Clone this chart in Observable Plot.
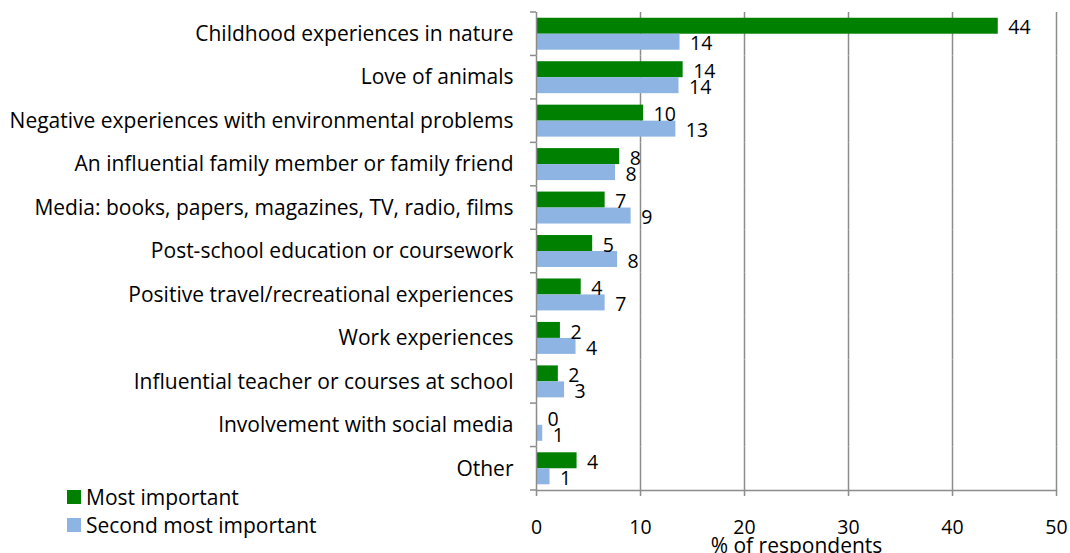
<!DOCTYPE html>
<html><head><meta charset="utf-8">
<script src="https://cdn.jsdelivr.net/npm/d3@7"></script>
<script src="https://cdn.jsdelivr.net/npm/@observablehq/plot@0.6"></script>
<style>
body{margin:0;background:#fff;}
#wrap{position:relative;width:1070px;height:553px;overflow:hidden;}
#legend{position:absolute;left:67px;top:483px;font-family:"Open Sans", sans-serif;font-size:21px;color:#000;line-height:28px;}
#legend .row{display:flex;align-items:center;white-space:nowrap;height:28px;}
#legend .sw{width:14px;height:14px;margin-right:5px;display:inline-block;}
</style></head><body><div id="wrap"><div id="legend"></div></div>
<script>
const categories = [
  "Childhood experiences in nature",
  "Love of animals",
  "Negative experiences with environmental problems",
  "An influential family member or family friend",
  "Media: books, papers, magazines, TV, radio, films",
  "Post-school education or coursework",
  "Positive travel/recreational experiences",
  "Work experiences",
  "Influential teacher or courses at school",
  "Involvement with social media",
  "Other"
];
const mostImportant = [44.4, 14.1, 10.3, 8.0, 6.6, 5.4, 4.3, 2.3, 2.1, 0.1, 3.9];
const secondMostImportant = [13.8, 13.7, 13.4, 7.6, 9.1, 7.8, 6.6, 3.8, 2.7, 0.6, 1.3];
const seriesNames = ["Most important", "Second most important"];
const seriesColors = ["#008000", "#8db4e2"];
const xTicks = [0, 10, 20, 30, 40, 50];
const xLabel = "% of respondents";

const rows = [];
categories.forEach((c, i) => {
  rows.push({category: c, series: seriesNames[0], value: mostImportant[i]});
  rows.push({category: c, series: seriesNames[1], value: secondMostImportant[i]});
});
const gridColor = "#8c8c8c";
const fs = 19.5;   // numbers
const fsText = 21; // words
const chart = Plot.plot({
  width: 1070, height: 553,
  marginLeft: 536, marginRight: 14, marginTop: 12, marginBottom: 63,
  style: {fontFamily: "'Open Sans', sans-serif", fontSize: fs + "px", color: "#000", background: "transparent", overflow: "visible"},
  x: {domain: [0, 50]},
  y: {domain: seriesNames, paddingInner: 0, paddingOuter: 0.36, round: false, axis: null},
  fy: {domain: categories, padding: 0, round: false},
  color: {domain: seriesNames, range: seriesColors},
  marks: [
    Plot.ruleX(xTicks.slice(1), {stroke: gridColor, strokeWidth: 1.5}),
    Plot.barX(rows, {fy: "category", y: "series", x: "value", fill: "series"}),
    Plot.ruleX([0], {stroke: gridColor, strokeWidth: 1.5}),
    Plot.text(rows, {fy: "category", y: "series", x: "value", text: d => d3.format(".0f")(d.value), textAnchor: "start", dx: 10, dy: 2, fill: "#000", fontSize: fs}),
    Plot.axisFy({anchor: "left", tickSize: 0, tickPadding: 23, label: null, fill: "#000", fontSize: fsText}),
    Plot.axisX({ticks: xTicks, tickSize: 6, tickPadding: 24, stroke: gridColor, strokeWidth: 1.5, fill: "#000", label: null, tickFormat: d3.format("d"), fontSize: fs}),
    Plot.axisX({ticks: [], tickSize: 0, label: xLabel, labelArrow: "none", labelAnchor: "center", labelOffset: 62, fill: "#000", fontSize: fsText}),
    Plot.frame({anchor: "bottom", facetAnchor: "bottom", stroke: gridColor, strokeWidth: 1.5})
  ]
});
// category boundary ticks on the y axis, positioned from the plot's own scales
const fy = chart.scale("fy"), xs = chart.scale("x");
const x0 = xs.apply(0);
const bounds = categories.map(c => fy.apply(c)).concat([fy.apply(categories[categories.length - 1]) + fy.bandwidth]);
d3.select(chart).append("g").attr("stroke", gridColor).attr("stroke-width", 1.5)
  .selectAll("line").data(bounds).join("line")
  .attr("x1", x0 - 6).attr("x2", x0).attr("y1", d => d).attr("y2", d => d);
document.getElementById("wrap").prepend(chart);
const legend = d3.select("#legend");
seriesNames.forEach((s, i) => {
  const r = legend.append("div").attr("class", "row");
  r.append("span").attr("class", "sw").style("background", seriesColors[i]);
  r.append("span").text(s);
});
</script></body></html>
